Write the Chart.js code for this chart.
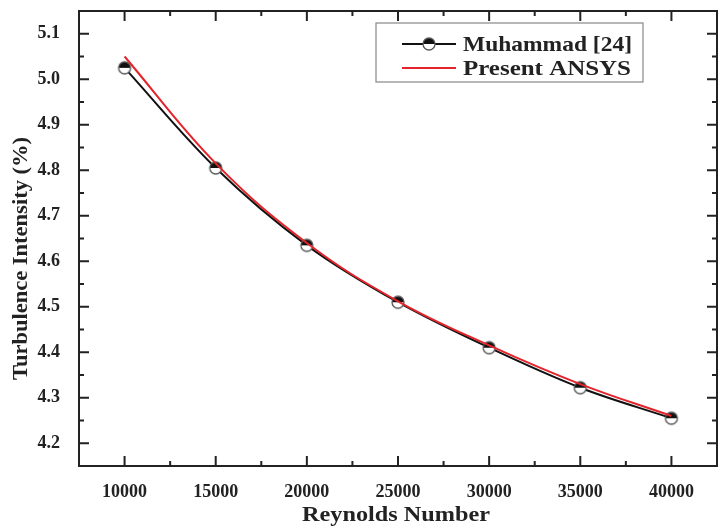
<!DOCTYPE html>
<html>
<head>
<meta charset="utf-8">
<script src="https://cdn.jsdelivr.net/npm/chart.js@4.4.1/dist/chart.umd.min.js"></script>
<style>
  html, body { margin: 0; padding: 0; background: #fff; }
  #wrap { width: 719px; height: 529px; }
</style>
</head>
<body>
<div id="wrap"><canvas id="chart" width="719" height="529"></canvas></div>
<script>
const reynolds = [10000, 15000, 20000, 25000, 30000, 35000, 40000];
const muhammad = [5.025, 4.805, 4.635, 4.51, 4.41, 4.322, 4.255];
const ansys = [5.05, 4.815, 4.64, 4.512, 4.415, 4.33, 4.26];
const xTicks = [10000, 15000, 20000, 25000, 30000, 35000, 40000];
const yTicks = [4.2, 4.3, 4.4, 4.5, 4.6, 4.7, 4.8, 4.9, 5.0, 5.1];

const serif = '"Liberation Serif", "DejaVu Serif", serif';
const ink = '#222';

// half-filled circle marker
function halfCircle() {
  const c = document.createElement('canvas');
  c.width = 16; c.height = 16;
  const g = c.getContext('2d');
  g.beginPath(); g.arc(8, 8, 6, 0, Math.PI); g.closePath();
  g.fillStyle = '#fff'; g.fill();
  g.beginPath(); g.arc(8, 8, 6, Math.PI, 2 * Math.PI); g.closePath();
  g.fillStyle = '#111'; g.fill();
  g.beginPath(); g.arc(8, 8, 6, 0, 2 * Math.PI);
  g.strokeStyle = '#555'; g.lineWidth = 1.3; g.stroke();
  return c;
}
const marker = halfCircle();

// text stretched to a given width (source font is wider than ours)
function wideText(ctx, text, x, y, width) {
  const w = ctx.measureText(text).width;
  ctx.save();
  ctx.translate(x, y);
  ctx.scale(width / w, 1);
  ctx.fillText(text, 0, 0);
  ctx.restore();
}

const frame = {
  id: 'frame',
  afterDraw(chart) {
    const { ctx, chartArea: a, scales: { x, y } } = chart;
    ctx.save();
    ctx.strokeStyle = ink;
    ctx.lineWidth = 2;
    ctx.strokeRect(a.left, a.top, a.right - a.left, a.bottom - a.top);

    // inward ticks, major + minor, on all four sides
    ctx.beginPath();
    const xs = [];
    xTicks.forEach(v => xs.push([v, 10]));
    for (let v = 7500; v <= 42500; v += 5000) xs.push([v, 5]);
    xs.forEach(([v, len]) => {
      const px = x.getPixelForValue(v);
      if (px <= a.left + 1 || px >= a.right - 1) return;
      ctx.moveTo(px, a.bottom); ctx.lineTo(px, a.bottom - len);
      ctx.moveTo(px, a.top); ctx.lineTo(px, a.top + len);
    });
    const ys = [];
    yTicks.forEach(v => ys.push([v, 10]));
    for (let i = 0; i < yTicks.length; i++) ys.push([yTicks[i] + 0.05, 5]);
    ys.forEach(([v, len]) => {
      const py = y.getPixelForValue(v);
      if (py <= a.top + 1 || py >= a.bottom - 1) return;
      ctx.moveTo(a.left, py); ctx.lineTo(a.left + len, py);
      ctx.moveTo(a.right, py); ctx.lineTo(a.right - len, py);
    });
    ctx.stroke();

    // axis titles
    ctx.fillStyle = ink;
    ctx.font = 'bold 22px ' + serif;
    ctx.textAlign = 'left';
    ctx.textBaseline = 'alphabetic';
    wideText(ctx, 'Reynolds Number', 302, 521, 188);
    ctx.save();
    ctx.translate(27, 380);
    ctx.rotate(-Math.PI / 2);
    wideText(ctx, 'Turbulence Intensity (%)', 0, 0, 243);
    ctx.restore();

    // legend box
    const lx = 376, ly = 23, lw = 267, lh = 59;
    ctx.fillStyle = '#fff';
    ctx.fillRect(lx, ly, lw, lh);
    ctx.strokeStyle = '#888';
    ctx.lineWidth = 1.2;
    ctx.strokeRect(lx, ly, lw, lh);
    ctx.lineWidth = 2;
    ctx.strokeStyle = '#111';
    ctx.beginPath(); ctx.moveTo(402, 44); ctx.lineTo(456, 44); ctx.stroke();
    ctx.drawImage(marker, 429 - 8, 44 - 8);
    ctx.strokeStyle = '#e3242b';
    ctx.beginPath(); ctx.moveTo(402, 68); ctx.lineTo(456, 68); ctx.stroke();
    ctx.fillStyle = ink;
    ctx.font = 'bold 21px ' + serif;
    wideText(ctx, 'Muhammad [24]', 463, 51, 169);
    wideText(ctx, 'Present ANSYS', 463, 75, 168);
    ctx.restore();
  }
};

new Chart(document.getElementById('chart').getContext('2d'), {
  type: 'line',
  data: {
    labels: reynolds,
    datasets: [
      {
        label: 'Muhammad [24]',
        data: reynolds.map((r, i) => ({ x: r, y: muhammad[i] })),
        borderColor: '#111',
        borderWidth: 2,
        tension: 0.35,
        pointStyle: marker,
        pointRadius: 6,
        order: 2
      },
      {
        label: 'Present ANSYS',
        data: reynolds.map((r, i) => ({ x: r, y: ansys[i] })),
        borderColor: '#e3242b',
        borderWidth: 2,
        tension: 0.4,
        pointRadius: 0,
        order: 1
      }
    ]
  },
  options: {
    responsive: false,
    animation: false,
    layout: { autoPadding: false, padding: { top: 11, right: 2, left: 0, bottom: 0 } },
    plugins: { legend: { display: false }, tooltip: { enabled: false } },
    scales: {
      x: {
        type: 'linear',
        min: 7500,
        max: 42500,
        grid: { display: false },
        border: { display: false },
        afterBuildTicks: s => { s.ticks = xTicks.map(v => ({ value: v })); },
        afterFit: s => { s.height = 63; s.paddingLeft = 0; s.paddingRight = 0; },
        ticks: {
          padding: 8,
          maxRotation: 0,
          color: ink,
          font: { family: serif, size: 18, weight: 'bold' },
          callback: v => String(v)
        }
      },
      y: {
        min: 4.15,
        max: 5.15,
        grid: { display: false },
        border: { display: false },
        afterBuildTicks: s => { s.ticks = yTicks.map(v => ({ value: v })); },
        afterFit: s => { s.width = 79; s.paddingTop = 0; s.paddingBottom = 0; },
        ticks: {
          padding: 11,
          color: ink,
          font: { family: serif, size: 18, weight: 'bold' },
          callback: v => v.toFixed(1)
        }
      }
    }
  },
  plugins: [frame]
});
</script>
</body>
</html>
